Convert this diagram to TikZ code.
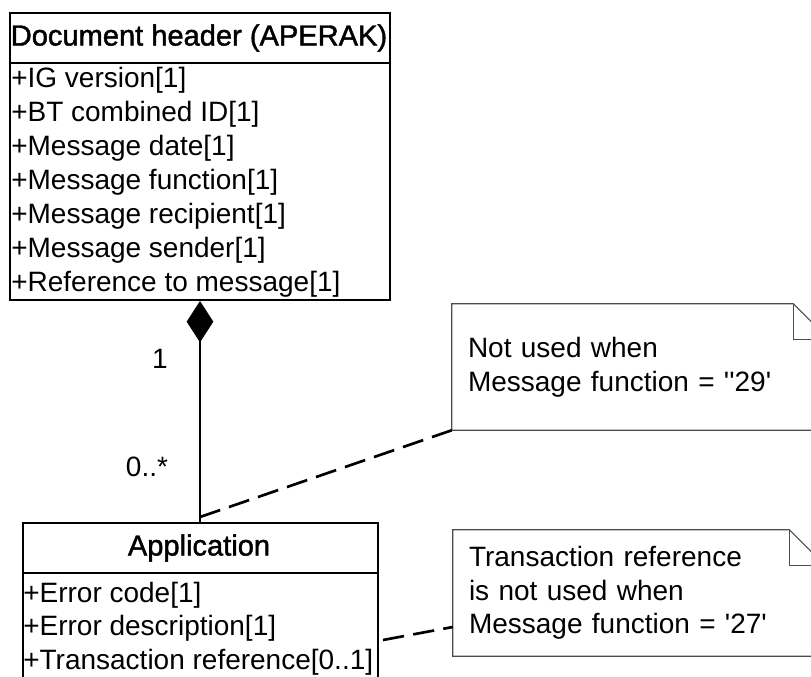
\documentclass[tikz,border=0pt]{standalone}
\usepackage{fontspec}
\setmainfont{Liberation Sans}
\newfontfamily\titrefont{Liberation Sans}[FakeBold=1.5]
\usetikzlibrary{arrows.meta}

\begin{document}
\begin{tikzpicture}[x=0.75pt,y=-0.75pt]
	\tikzstyle{texte}=[inner sep=0pt,font=\fontsize{21}{25.3}\selectfont]
	\tikzstyle{titre}=[texte,font=\titrefont\fontsize{21.8}{25.3}\selectfont]
	\tikzstyle{attribut}=[texte,anchor=west]
	\tikzstyle{boite}=[draw,line width=1.5pt,inner sep=0pt]
	\tikzstyle{commentaire}=[texte,align=left,inner xsep=12pt,minimum height=94.5pt]
	\tikzstyle{cadre}=[draw=black!70,line width=0.8pt]
	\tikzstyle{composition}=[{Diamond[length=31pt,width=20pt]}-,line width=0.9pt]
	\tikzstyle{pointille}=[line width=2pt,dash pattern=on 16pt off 7pt]
	\def\Interligne{34}\def\Pli{27pt}
	\useasboundingbox (0,0) rectangle (811,676);
	% classe Document header
	\node[boite,minimum width=285pt,minimum height=215.25pt] (hdr) at (200,156.5) {};
	\node[titre] (hdrT) at (199,38) {Document header (APERAK)};
	\coordinate (hdrS) at (200,63);
	\draw[line width=1.5pt] (hdrS -| hdr.west) -- (hdrS -| hdr.east);
	\foreach \attr [count=\i] in {{+IG version[1]},{+BT combined ID[1]},{+Message date[1]},
		{+Message function[1]},{+Message recipient[1]},{+Message sender[1]},{+Reference to message[1]}}
		\node[attribut] (hdrA\i) at (11,{80+\Interligne*(\i-1)}) {\attr};
	% classe Application
	\node[boite,minimum width=266.25pt,minimum height=125.25pt] (app) at (200,606.5) {};
	\node[titre] (appT) at (199,548) {Application};
	\coordinate (appS) at (200,573);
	\draw[line width=1.5pt] (appS -| app.west) -- (appS -| app.east);
	\foreach \attr [count=\i] in {{+Error code[1]},{+Error description[1]},{+Transaction reference[0..1]}}
		\node[attribut] (appA\i) at (23,{595+33.5*(\i-1)}) {\attr};
	% composition
	\draw[composition] (hdr.south) -- (app.north);
	\node[texte] (multHaut) at (160,359) {1};
	\node[texte] (multBas) at (147,467) {0..*};
	% notes
	\node[commentaire,text width=258.75pt] (n1) at (640.5,367)
		{Not used when\\Message function = \textquotesingle\textquotesingle29\textquotesingle};
	\node[commentaire,text width=255pt] (n2) at (639,593)
		{Transaction reference\\is not used when\\Message function = \textquotesingle27\textquotesingle};
	\foreach \n in {n1,n2} {
		\draw[cadre] (\n.south west) -- (\n.north west) -- ([xshift=-\Pli]\n.north east)
			-- ([yshift=-\Pli]\n.north east) -- (\n.south east) -- cycle;
		\draw[cadre] ([xshift=-\Pli]\n.north east) |- ([yshift=-\Pli]\n.north east);
	}
	\coordinate (lien) at (200,517);
	\coordinate (appBord) at (383,640);
	\draw[pointille] (lien) -- (n1.south west);
	\draw[pointille] (appBord) -- ([yshift=-25.5pt]n2.west);
\end{tikzpicture}
\end{document}
